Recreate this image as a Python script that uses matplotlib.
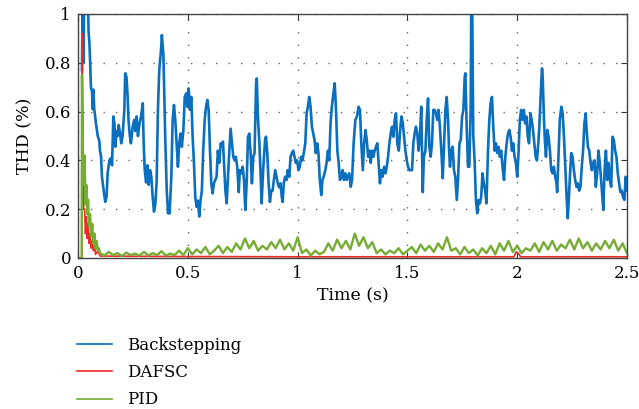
import numpy as np
import matplotlib
matplotlib.use("Agg")
import matplotlib.pyplot as plt

# --- data -------------------------------------------------------------------
blue_time = [
    0.018, 0.021, 0.025, 0.028, 0.040, 0.046, 0.048, 0.052, 0.055, 0.059,
    0.064, 0.067, 0.070, 0.074, 0.082, 0.090, 0.097, 0.100, 0.105, 0.109,
    0.115, 0.124, 0.130, 0.135, 0.143, 0.150, 0.155, 0.161, 0.166, 0.170,
    0.176, 0.180, 0.185, 0.190, 0.197, 0.203, 0.211, 0.215, 0.221, 0.226,
    0.230, 0.236, 0.241, 0.249, 0.256, 0.261, 0.267, 0.273, 0.280, 0.287,
    0.295, 0.299, 0.304, 0.310, 0.316, 0.322, 0.328, 0.334, 0.340, 0.346,
    0.352, 0.358, 0.364, 0.370, 0.378, 0.382, 0.389, 0.393, 0.397, 0.404,
    0.410, 0.414, 0.417, 0.425, 0.431, 0.437, 0.443, 0.449, 0.455, 0.461,
    0.467, 0.473, 0.480, 0.486, 0.493, 0.498, 0.504, 0.510, 0.516, 0.522,
    0.528, 0.534, 0.540, 0.546, 0.552, 0.558, 0.564, 0.570, 0.577, 0.583,
    0.589, 0.595, 0.601, 0.607, 0.613, 0.619, 0.625, 0.631, 0.637, 0.643,
    0.650, 0.656, 0.660, 0.665, 0.671, 0.677, 0.683, 0.689, 0.695, 0.701,
    0.707, 0.713, 0.719, 0.725, 0.732, 0.737, 0.744, 0.750, 0.756, 0.762,
    0.768, 0.774, 0.780, 0.786, 0.792, 0.798, 0.804, 0.811, 0.814, 0.820,
    0.826, 0.832, 0.836, 0.844, 0.852, 0.856, 0.862, 0.868, 0.874, 0.880,
    0.886, 0.892, 0.898, 0.904, 0.910, 0.916, 0.922, 0.928, 0.932, 0.937,
    0.943, 0.950, 0.955, 0.962, 0.968, 0.974, 0.980, 0.986, 0.992, 0.998,
    1.004, 1.010, 1.016, 1.022, 1.028, 1.035, 1.041, 1.047, 1.053, 1.059,
    1.065, 1.071, 1.077, 1.083, 1.089, 1.095, 1.101, 1.108, 1.113, 1.119,
    1.126, 1.132, 1.138, 1.144, 1.150, 1.156, 1.163, 1.169, 1.175, 1.181,
    1.187, 1.193, 1.199, 1.205, 1.211, 1.217, 1.223, 1.229, 1.235, 1.242,
    1.248, 1.255, 1.263, 1.270, 1.278, 1.284, 1.290, 1.297, 1.303, 1.309,
    1.315, 1.321, 1.327, 1.333, 1.339, 1.345, 1.351, 1.357, 1.363, 1.369,
    1.375, 1.381, 1.387, 1.394, 1.400, 1.406, 1.412, 1.418, 1.424, 1.430,
    1.436, 1.442, 1.448, 1.454, 1.461, 1.467, 1.473, 1.479, 1.485, 1.491,
    1.497, 1.503, 1.509, 1.515, 1.521, 1.527, 1.533, 1.539, 1.545, 1.551,
    1.557, 1.563, 1.570, 1.575, 1.582, 1.588, 1.594, 1.600, 1.606, 1.612,
    1.618, 1.624, 1.630, 1.636, 1.642, 1.648, 1.655, 1.661, 1.667, 1.673,
    1.679, 1.685, 1.690, 1.694, 1.700, 1.706, 1.712, 1.718, 1.725, 1.731,
    1.737, 1.743, 1.749, 1.755, 1.761, 1.764, 1.770, 1.776, 1.782, 1.788,
    1.791, 1.795, 1.800, 1.806, 1.812, 1.818, 1.824, 1.830, 1.836, 1.842,
    1.848, 1.854, 1.860, 1.867, 1.873, 1.879, 1.885, 1.891, 1.897, 1.903,
    1.909, 1.915, 1.921, 1.927, 1.933, 1.940, 1.946, 1.952, 1.958, 1.964,
    1.970, 1.976, 1.982, 1.988, 1.994, 2.000, 2.006, 2.012, 2.018, 2.024,
    2.030, 2.036, 2.042, 2.048, 2.054, 2.060, 2.066, 2.072, 2.078, 2.084,
    2.090, 2.096, 2.100, 2.104, 2.108, 2.113, 2.116, 2.122, 2.126, 2.131,
    2.137, 2.143, 2.149, 2.155, 2.161, 2.167, 2.173, 2.179, 2.182, 2.188,
    2.194, 2.201, 2.207, 2.213, 2.219, 2.225, 2.230, 2.234, 2.240, 2.246,
    2.252, 2.258, 2.264, 2.270, 2.276, 2.282, 2.288, 2.294, 2.300, 2.306,
    2.312, 2.316, 2.322, 2.328, 2.334, 2.340, 2.346, 2.352, 2.358, 2.364,
    2.370, 2.376, 2.382, 2.388, 2.392, 2.398, 2.404, 2.410, 2.416, 2.422,
    2.428, 2.434, 2.440, 2.446, 2.452, 2.458, 2.464, 2.470, 2.476, 2.482,
    2.488, 2.494, 2.500,
]
blue_thd = [
    0.77, 1.05, 0.80, 1.05, 1.05, 1.02, 0.93, 0.88, 0.81, 0.70,
    0.68, 0.61, 0.69, 0.61, 0.55, 0.50, 0.48, 0.44, 0.415, 0.333,
    0.29, 0.23, 0.25, 0.347, 0.40, 0.41, 0.38, 0.58, 0.55, 0.456,
    0.52, 0.50, 0.545, 0.52, 0.47, 0.50, 0.607, 0.757, 0.74, 0.66,
    0.566, 0.50, 0.47, 0.538, 0.566, 0.52, 0.58, 0.50, 0.55, 0.58,
    0.634, 0.47, 0.36, 0.31, 0.38, 0.30, 0.36, 0.333, 0.25, 0.19,
    0.22, 0.31, 0.607, 0.77, 0.85, 0.914, 0.83, 0.66, 0.50, 0.28,
    0.183, 0.21, 0.183, 0.333, 0.566, 0.627, 0.566, 0.47, 0.374, 0.47,
    0.51, 0.456, 0.525, 0.66, 0.675, 0.62, 0.695, 0.607, 0.66, 0.497,
    0.39, 0.25, 0.21, 0.235, 0.17, 0.235, 0.276, 0.44, 0.566, 0.62,
    0.648, 0.607, 0.44, 0.306, 0.265, 0.306, 0.32, 0.333, 0.44, 0.39,
    0.47, 0.456, 0.477, 0.39, 0.28, 0.224, 0.333, 0.44, 0.53, 0.47,
    0.415, 0.40, 0.415, 0.374, 0.27, 0.36, 0.347, 0.374, 0.32, 0.197,
    0.306, 0.497, 0.51, 0.43, 0.306, 0.415, 0.43, 0.716, 0.736, 0.566,
    0.47, 0.333, 0.224, 0.374, 0.484, 0.497, 0.43, 0.306, 0.23, 0.276,
    0.276, 0.32, 0.36, 0.333, 0.306, 0.29, 0.306, 0.25, 0.23, 0.306,
    0.333, 0.32, 0.36, 0.333, 0.415, 0.43, 0.44, 0.415, 0.39, 0.40,
    0.36, 0.374, 0.415, 0.40, 0.43, 0.47, 0.593, 0.62, 0.66, 0.62,
    0.538, 0.51, 0.484, 0.43, 0.47, 0.43, 0.32, 0.258, 0.32, 0.333,
    0.36, 0.39, 0.44, 0.40, 0.552, 0.62, 0.675, 0.716, 0.607, 0.44,
    0.39, 0.32, 0.333, 0.36, 0.32, 0.347, 0.32, 0.333, 0.347, 0.292,
    0.32, 0.47, 0.566, 0.58, 0.62, 0.607, 0.47, 0.36, 0.47, 0.525,
    0.484, 0.415, 0.44, 0.39, 0.44, 0.415, 0.44, 0.456, 0.47, 0.39,
    0.306, 0.36, 0.333, 0.374, 0.347, 0.374, 0.415, 0.47, 0.51, 0.538,
    0.497, 0.566, 0.593, 0.47, 0.44, 0.525, 0.58, 0.552, 0.497, 0.44,
    0.40, 0.374, 0.36, 0.36, 0.36, 0.47, 0.51, 0.538, 0.51, 0.44,
    0.497, 0.62, 0.27, 0.415, 0.44, 0.566, 0.654, 0.456, 0.415, 0.47,
    0.607, 0.607, 0.593, 0.566, 0.607, 0.538, 0.43, 0.327, 0.47, 0.607,
    0.66, 0.566, 0.44, 0.374, 0.44, 0.456, 0.36, 0.333, 0.238, 0.333,
    0.47, 0.484, 0.58, 0.607, 0.743, 0.757, 0.538, 0.374, 0.374, 0.607,
    1.05, 1.05, 0.50, 0.40, 0.238, 0.183, 0.238, 0.224, 0.25, 0.347,
    0.306, 0.276, 0.224, 0.44, 0.566, 0.634, 0.66, 0.538, 0.44, 0.47,
    0.43, 0.456, 0.415, 0.44, 0.374, 0.32, 0.415, 0.47, 0.51, 0.525,
    0.497, 0.44, 0.47, 0.415, 0.39, 0.333, 0.43, 0.566, 0.607, 0.566,
    0.607, 0.552, 0.58, 0.497, 0.47, 0.593, 0.566, 0.525, 0.47, 0.415,
    0.40, 0.47, 0.525, 0.607, 0.689, 0.777, 0.743, 0.566, 0.484, 0.415,
    0.525, 0.497, 0.44, 0.36, 0.347, 0.374, 0.333, 0.306, 0.27, 0.415,
    0.566, 0.62, 0.593, 0.497, 0.374, 0.25, 0.163, 0.224, 0.333, 0.43,
    0.415, 0.36, 0.32, 0.292, 0.306, 0.276, 0.292, 0.374, 0.44, 0.552,
    0.593, 0.525, 0.456, 0.44, 0.39, 0.36, 0.39, 0.40, 0.292, 0.347,
    0.44, 0.39, 0.32, 0.25, 0.197, 0.36, 0.44, 0.32, 0.39, 0.32,
    0.292, 0.497, 0.484, 0.44, 0.415, 0.347, 0.306, 0.27, 0.276, 0.25,
    0.238, 0.333, 0.276,
]

red_time = [0.0, 0.017, 0.018, 0.020, 0.026, 0.030, 0.034, 0.038, 0.042,
            0.046, 0.050, 0.055, 0.060, 0.065, 0.070, 0.075, 0.080, 0.090,
            0.100, 0.500, 1.000, 1.500, 1.985, 1.995, 2.005, 2.015, 2.500]
red_thd = [0.0, 0.0, 0.92, 0.76, 0.20, 0.20, 0.10, 0.17, 0.08,
           0.14, 0.06, 0.10, 0.04, 0.07, 0.03, 0.05, 0.015, 0.03,
           0.008, 0.006, 0.005, 0.005, 0.005, 0.025, 0.02, 0.005, 0.005]

green_start_time = [0.0, 0.017, 0.018, 0.022, 0.026, 0.030, 0.034, 0.038,
                    0.042, 0.046, 0.050, 0.055, 0.060, 0.065, 0.070, 0.075,
                    0.080, 0.085, 0.090, 0.095]
green_start_thd = [0.0, 0.0, 0.75, 0.45, 0.30, 0.42, 0.22, 0.30,
                   0.18, 0.24, 0.13, 0.18, 0.09, 0.14, 0.06, 0.10,
                   0.04, 0.07, 0.03, 0.04]
# PID after 0.1 s, one reading every 0.02 s up to 2.5 s
green_thd = [
    0.02, 0.01, 0.025, 0.012, 0.02, 0.008, 0.022, 0.012, 0.018, 0.01,
    0.025, 0.01, 0.02, 0.012, 0.028, 0.01, 0.018, 0.012,
    0.03, 0.012, 0.04, 0.015, 0.035, 0.02, 0.045, 0.015,
    0.03, 0.05, 0.02, 0.045, 0.025,
    0.06, 0.035, 0.08, 0.04, 0.07, 0.03, 0.05, 0.035,
    0.065, 0.04, 0.075, 0.035, 0.06, 0.03, 0.085,
    0.02, 0.035, 0.01, 0.03, 0.015, 0.025,
    0.06, 0.03, 0.075, 0.04, 0.07, 0.035, 0.1, 0.05, 0.085, 0.04, 0.065,
    0.02, 0.035, 0.015, 0.03, 0.02, 0.04, 0.015, 0.03,
    0.045, 0.02, 0.055, 0.03, 0.05, 0.025, 0.06, 0.035, 0.085, 0.03,
    0.04, 0.015, 0.045, 0.02, 0.035, 0.01, 0.04, 0.02, 0.05, 0.015,
    0.06, 0.03, 0.07, 0.025, 0.05, 0.02, 0.04,
    0.03, 0.06, 0.025, 0.065, 0.035, 0.07, 0.03, 0.055,
    0.04, 0.075, 0.035, 0.08, 0.04, 0.065, 0.03, 0.06, 0.035, 0.07,
    0.04, 0.075, 0.03, 0.06, 0.02,
]
green_time = np.linspace(0.10, 2.50, len(green_thd))

x_ticks = [0, 0.5, 1, 1.5, 2, 2.5]
x_labels = ["0", "0.5", "1", "1.5", "2", "2.5"]
y_ticks = [0, 0.2, 0.4, 0.6, 0.8, 1]
y_labels = ["0", "0.2", "0.4", "0.6", "0.8", "1"]

BLUE = "#0b6fbf"
RED = "#ee2a24"
GREEN = "#74ad32"

plt.rcParams["font.family"] = ["DejaVu Serif"]
plt.rcParams["font.size"] = 12

fig = plt.figure(figsize=(6.39, 4.09), dpi=100)
ax = fig.add_axes([78 / 639, 1 - 258 / 409, 549 / 639, 244 / 409])

ax.grid(True, color="#666666", linestyle=(0, (1, 8)), linewidth=1.0)
ax.set_axisbelow(True)

ax.plot(blue_time, blue_thd, color=BLUE, lw=1.9, label="Backstepping")
ax.plot(red_time, red_thd, color=RED, lw=1.2, label="DAFSC")
ax.plot(np.concatenate([green_start_time, green_time]),
        np.concatenate([green_start_thd, green_thd]),
        color=GREEN, lw=1.7, label="PID")

ax.set_xlim(0, 2.5)
ax.set_ylim(0, 1)
ax.set_xticks(x_ticks)
ax.set_xticklabels(x_labels)
ax.set_yticks(y_ticks)
ax.set_yticklabels(y_labels)
ax.set_xlabel("Time (s)", labelpad=4, fontsize=12.5)
ax.set_ylabel("THD (%)", labelpad=8, fontsize=12.5)

ax.tick_params(direction="in", top=True, right=True, length=4,
               width=0.8, color="#333333", pad=5)
for spine in ax.spines.values():
    spine.set_color("#444444")
    spine.set_linewidth(1.0)

handles, labels = ax.get_legend_handles_labels()
leg = fig.legend(handles, labels, loc="upper left",
                 bbox_to_anchor=(70 / 639, 1 - 330 / 409),
                 frameon=False, handlelength=2.1, handletextpad=0.9,
                 labelspacing=0.62, borderaxespad=0)
for line in leg.get_lines():
    line.set_linewidth(1.2)

fig.savefig("out.png", dpi=100)
